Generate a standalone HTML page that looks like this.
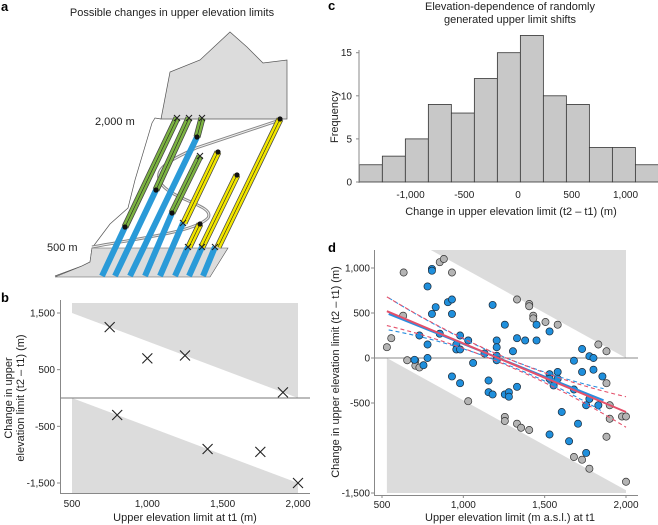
<!DOCTYPE html>
<html><head><meta charset="utf-8">
<style>
body{margin:0;background:#fff;}
svg{display:block;font-family:"Liberation Sans",sans-serif;}
.t{font-size:10px;fill:#222;}
.lab{font-size:11px;fill:#222;}
.pl{font-size:13px;font-weight:bold;fill:#000;}
</style></head>
<body>
<svg id="fig" width="658" height="525" viewBox="0 0 658 525">
<!-- Panel a -->
<g>
<text class="pl" x="1" y="11">a</text>
<text class="lab" x="172" y="16" text-anchor="middle">Possible changes in upper elevation limits</text>
<polygon points="161,119 170,72 200,60 230,32 247,47 263,63 287,60 287,119" fill="#dcdcdc" stroke="#555" stroke-width="0.7"/>
<polyline points="161,119 155,118 152,123 135,180 128,208 110,224 98,240 92,248 90,262 82,266 55,276" fill="none" stroke="#555" stroke-width="0.7"/>
<polygon points="92,248 228,248 210,277 55,277 82,266 90,262" fill="#dcdcdc" stroke="#555" stroke-width="0.6"/>
<path d="M92,247 C140,238 195,232 208,218 C216,205 170,200 160,182 C152,166 180,156 196,148 L280,120" fill="none" stroke="#888" stroke-width="3"/>
<path d="M92,247 C140,238 195,232 208,218 C216,205 170,200 160,182 C152,166 180,156 196,148 L280,120" fill="none" stroke="#eee" stroke-width="1"/>
<g id="bars" stroke-linecap="butt"></g>
<text class="lab" x="95" y="125">2,000 m</text>
<text class="lab" x="47" y="251">500 m</text>
</g>
<!-- Panel b -->
<g id="pb">
<text class="pl" x="1" y="302">b</text>
</g>
<!-- Panel c -->
<g id="pc">
<text class="pl" x="328" y="10">c</text>
<text class="lab" x="510" y="10" text-anchor="middle">Elevation-dependence of randomly</text>
<text class="lab" x="510" y="23" text-anchor="middle">generated upper limit shifts</text>
</g>
<!-- Panel d -->
<g id="pd">
<text class="pl" x="328" y="252">d</text>
</g>
</svg>
<script>
const NS="http://www.w3.org/2000/svg";
function mk(p,tag,at,txt){const e=document.createElementNS(NS,tag);for(const k in at)e.setAttribute(k,at[k]);if(txt!==undefined)e.textContent=txt;p.appendChild(e);return e;}

// ---------- Panel a bars (illustration geometry) ----------
const barsG=document.getElementById('bars');
const blueBars=[[102,276,125,227],[115,276,156,190],[130,276,197,137],[145,276,172,213],[160,276,183,223],[175,276,188,247],[189,276,202,247],[203,276,215,247]];
const greenBars=[[125,227,177,118],[156,190,189,118],[197,137,202,118],[172,213,200,156]];
const yellowBars=[[280,119,218,247],[237,175,202,247],[218,152,184,223],[200,224,189,247]];
blueBars.forEach(b=>{const l=mk(barsG,'line',{x1:b[0],y1:b[1],x2:b[2],y2:b[3],stroke:'#2a9ad8','stroke-width':6});

});
[[greenBars,'#7cb342','green-range-bar'],[yellowBars,'#f2e600','yellow-range-bar']].forEach(([arr,c,n])=>arr.forEach(b=>{
const o=mk(barsG,'line',{x1:b[0],y1:b[1],x2:b[2],y2:b[3],stroke:'#444','stroke-width':7});


const l=mk(barsG,'line',{x1:b[0],y1:b[1],x2:b[2],y2:b[3],stroke:c,'stroke-width':5.5});


const a=mk(barsG,'line',{x1:b[0],y1:b[1],x2:b[2],y2:b[3],stroke:'#222','stroke-width':0.6});

}));
const dotsA=[[125,227],[156,190],[197,137],[172,213],[280,119],[237,175],[218,152],[200,224]];
dotsA.forEach(d=>{const c=mk(barsG,'circle',{cx:d[0],cy:d[1],r:2.6,fill:'#111'});

});
const xA=[[177,118],[189,118],[202,118],[200,156],[183,223],[188,247],[202,247],[215,247]];
xA.forEach(d=>{const p=mk(barsG,'path',{d:`M${d[0]-3},${d[1]-3}L${d[0]+3},${d[1]+3}M${d[0]+3},${d[1]-3}L${d[0]-3},${d[1]+3}`,stroke:'#222','stroke-width':1.1});

});

// ---------- Panel b ----------
const bX=[750,1000,1250,1900,800,1400,1750,2000];
const bY=[1250,700,750,100,-300,-900,-950,-1500];
const bXTicks=[500,1000,1500,2000];
const bXTickLabels=['500','1,000','1,500','2,000'];
const bYTicks=[1500,500,-500,-1500];
const bYTickLabels=['1,500','500','-500','-1,500'];
// ---------- Panel c ----------
const cCounts=[2,3,5,9,8,12,15,17,10,9,4,4,2];
const cBinStart=-1476, cBinWidth=214;
const cXTicks=[-1000,-500,0,500,1000];
const cXTickLabels=['-1,000','-500','0','500','1,000'];
const cYTicks=[0,5,10,15];
// ---------- Panel d ----------
const grayX=[530,557,633,630,655,705,705,730,855,880,930,1030,1255,1255,1330,1330,1355,1405,1405,1405,1430,1430,1505,1580,1680,1730,1775,1830,1880,1880,1880,1900,1900,1975,2000,2000];
const grayY=[120,220,950,470,-25,-30,-85,-105,1065,1100,950,-480,-655,-700,650,-730,-775,-800,600,575,470,440,400,370,-1100,-1130,-1230,150,75,-280,-875,-525,-675,-650,-650,-1375];
const blueX=[700,755,730,780,807,807,780,780,807,830,855,905,930,930,957,957,980,980,930,980,1030,1060,1130,1155,1155,1180,1180,1205,1205,1205,1205,1255,1255,1280,1280,1305,1330,1330,1380,1450,1450,1530,1530,1530,1530,1555,1580,1580,1605,1650,1680,1680,1705,1730,1730,1755,1755,1775,1775,1800,1800,1830,1855];
const blueY=[-20,-80,250,795,990,970,150,0,490,565,270,620,650,490,150,95,95,250,-205,-280,195,-55,50,-250,-380,590,-405,195,120,25,-25,370,-405,-380,-430,75,220,-320,195,370,195,295,-180,-230,-850,-305,-155,-230,-600,-925,-30,-350,-730,100,-155,-525,-1055,-455,20,0,-130,-525,-205];
const redFit=[530,520,2000,-600];    // x0,y0,x1,y1
const blueFit=[541,490,1862,-470];
const redCI=[1250,40,0.00023];       // center, min half-width, curvature
const blueCI=[1270,35,0.00027];
const dXTicks=[500,1000,1500,2000];
const dXTickLabels=['500','1,000','1,500','2,000'];
const dYTicks=[1000,500,0,-500,-1500];
const dYTickLabels=['1,000','500','0','-500','-1,500'];

// ===== draw panel b =====
(function(){
const g=document.getElementById('pb');
const sx=v=>72+(v-500)*(226/1500), sy=v=>398-v*(85/1500);
const up=mk(g,'polygon',{points:`${sx(500)},303 ${sx(2000)},303 ${sx(2000)},${sy(0)} ${sx(500)},${sy(1500)}`,fill:'#dcdcdc'});


const lo=mk(g,'polygon',{points:`${sx(500)},${sy(0)} ${sx(2000)},${sy(-1500)} ${sx(2000)},493 ${sx(500)},493`,fill:'#dcdcdc'});


const z=mk(g,'line',{x1:60,x2:310,y1:sy(0),y2:sy(0),stroke:'#777','stroke-width':1});


const ya=mk(g,'line',{x1:60.5,x2:60.5,y1:300,y2:494,stroke:'#888'});


const xa=mk(g,'line',{x1:60,x2:310,y1:493.5,y2:493.5,stroke:'#888'});


bXTicks.forEach((v,i)=>{const t=mk(g,'text',{class:'t',x:sx(v),y:507,'text-anchor':'middle'},bXTickLabels[i]);

});
bYTicks.forEach((v,i)=>{mk(g,'line',{x1:57,x2:60,y1:sy(v),y2:sy(v),stroke:'#888'});
const t=mk(g,'text',{class:'t',x:55,y:sy(v)+3.5,'text-anchor':'end'},bYTickLabels[i]);

});
bX.forEach((x,i)=>{const cx=sx(x),cy=sy(bY[i]);
const p=mk(g,'path',{d:`M${cx-5},${cy-5}L${cx+5},${cy+5}M${cx+5},${cy-5}L${cx-5},${cy+5}`,stroke:'#222','stroke-width':1.1});

});
const xl=mk(g,'text',{class:'lab',x:185,y:521,'text-anchor':'middle'},'Upper elevation limit at t1 (m)');


const y1=mk(g,'text',{class:'lab',transform:'translate(12,398) rotate(-90)','text-anchor':'middle'},'Change in upper');


const y2=mk(g,'text',{class:'lab',transform:'translate(24,398) rotate(-90)','text-anchor':'middle'},'elevation limit (t2 \u2013 t1) (m)');


})();

// ===== draw panel c =====
(function(){
const g=document.getElementById('pc');
const sx=v=>518+v*0.1075, sy=v=>182-v*8.62;
cCounts.forEach((c,i)=>{const x0=sx(cBinStart+i*cBinWidth),x1=sx(cBinStart+(i+1)*cBinWidth);
const r=mk(g,'rect',{x:x0,y:sy(c),width:x1-x0,height:sy(0)-sy(c),fill:'#c8c8c8',stroke:'#333','stroke-width':0.8});

});
const ya=mk(g,'line',{x1:359,x2:359,y1:50,y2:183,stroke:'#888'});


cYTicks.forEach(v=>{mk(g,'line',{x1:356,x2:359,y1:sy(v),y2:sy(v),stroke:'#888'});
const t=mk(g,'text',{class:'t',x:352,y:sy(v)+3.5,'text-anchor':'end'},String(v));

});
cXTicks.forEach((v,i)=>{const t=mk(g,'text',{class:'t',x:sx(v),y:198,'text-anchor':'middle'},cXTickLabels[i]);

});
const xl=mk(g,'text',{class:'lab',x:511,y:215,'text-anchor':'middle'},'Change in upper elevation limit (t2 \u2013 t1) (m)');


const yl=mk(g,'text',{class:'lab',transform:'translate(338,117) rotate(-90)','text-anchor':'middle'},'Frequency');


})();

// ===== draw panel d =====
(function(){
const g=document.getElementById('pd');
const sx=v=>382+(v-500)*(244/1500), sy=v=>358-v*0.09;
const up=mk(g,'polygon',{points:`${sx(800)},250 ${sx(2000)},250 ${sx(2000)},${sy(0)}`,fill:'#dcdcdc'});


const lo=mk(g,'polygon',{points:`${sx(530)},${sy(0)} ${sx(2000)},${sy(-1470)} ${sx(2000)},493 ${sx(530)},493`,fill:'#dcdcdc'});


const z=mk(g,'line',{x1:374,x2:638,y1:sy(0),y2:sy(0),stroke:'#888'});


const ya=mk(g,'line',{x1:374.5,x2:374.5,y1:250,y2:495,stroke:'#888'});


const xa=mk(g,'line',{x1:374,x2:638,y1:495.5,y2:495.5,stroke:'#888'});


dXTicks.forEach((v,i)=>{mk(g,'line',{x1:sx(v),x2:sx(v),y1:495,y2:498,stroke:'#888'});
const t=mk(g,'text',{class:'t',x:sx(v),y:508,'text-anchor':'middle'},dXTickLabels[i]);

});
dYTicks.forEach((v,i)=>{mk(g,'line',{x1:371,x2:374,y1:sy(v),y2:sy(v),stroke:'#888'});
const t=mk(g,'text',{class:'t',x:370,y:sy(v)+3.5,'text-anchor':'end'},dYTickLabels[i]);

});
grayX.forEach((x,i)=>{const c=mk(g,'circle',{cx:sx(x),cy:sy(grayY[i]),r:3.6,fill:'#b4b4b4',stroke:'#333','stroke-width':0.7});

});
blueX.forEach((x,i)=>{const c=mk(g,'circle',{cx:sx(x),cy:sy(blueY[i]),r:3.6,fill:'#1f8fdc',stroke:'#1a2a3a','stroke-width':0.7});

});
function fitY(f,x){return f[1]+(f[3]-f[1])*(x-f[0])/(f[2]-f[0]);}
function drawFit(f,ci,col,name){
 const pts=[],u=[],l=[];
 for(let k=0;k<=20;k++){const x=f[0]+(f[2]-f[0])*k/20,y=fitY(f,x),w=ci[1]+ci[2]*(x-ci[0])*(x-ci[0]);
  u.push(sx(x)+','+sy(y+w));l.push(sx(x)+','+sy(y-w));}
 const a=mk(g,'polyline',{points:u.join(' '),fill:'none',stroke:col,'stroke-width':1.1,'stroke-dasharray':'4,3'});
 
 
 const b=mk(g,'polyline',{points:l.join(' '),fill:'none',stroke:col,'stroke-width':1.1,'stroke-dasharray':'4,3'});
 
 
 const ln=mk(g,'line',{x1:sx(f[0]),y1:sy(f[1]),x2:sx(f[2]),y2:sy(f[3]),stroke:col,'stroke-width':2});
 
 
}
drawFit(blueFit,blueCI,'#2a8fe0','blue');
drawFit(redFit,redCI,'#e4506a','red');
const xl=mk(g,'text',{class:'lab',x:510,y:521,'text-anchor':'middle'},'Upper elevation limit (m a.s.l.) at t1');


const yl=mk(g,'text',{class:'lab',transform:'translate(339,372) rotate(-90)','text-anchor':'middle'},'Change in upper elevation limit (t2 \u2013 t1) (m)');


})();
</script>
</body></html>
